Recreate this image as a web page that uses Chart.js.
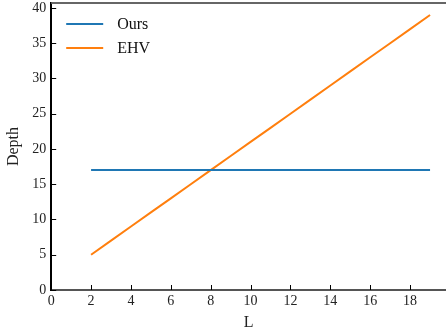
<!DOCTYPE html>
<html>
<head>
<meta charset="utf-8">
<script src="https://cdn.jsdelivr.net/npm/chart.js@4"></script>
<style>
  html, body { margin: 0; padding: 0; background: #fff; }
  #wrap { width: 446px; height: 334px; }
</style>
</head>
<body>
<div id="wrap"><canvas id="depthChart"></canvas></div>
<script>
// Values
let lValues = [2, 3, 4, 5, 6, 7, 8, 9, 10, 11, 12, 13, 14, 15, 16, 17, 18, 19];
let oursDepth = [17, 17, 17, 17, 17, 17, 17, 17, 17, 17, 17, 17, 17, 17, 17, 17, 17, 17];
let ehvDepth = [5, 7, 9, 11, 13, 15, 17, 19, 21, 23, 25, 27, 29, 31, 33, 35, 37, 39];
let xTicks = [0, 2, 4, 6, 8, 10, 12, 14, 16, 18];
let yTicks = [0, 5, 10, 15, 20, 25, 30, 35, 40];

let serif = "'Liberation Serif', 'DejaVu Serif', serif";

// Pairs the x values with a series so Chart.js can place the points
function toPoints(ys) {
    let pts = [];
    for (let i = 0; i < lValues.length; i++) {
        pts.push({ x: lValues[i], y: ys[i] });
    }
    return pts;
}

// Inward ticks, top spine and the legend box drawn on top of the chart area
let extras = {
    id: 'extras',
    afterDraw(chart) {
        let ctx = chart.ctx;
        let area = chart.chartArea;
        let xs = chart.scales.x;
        let ys = chart.scales.y;
        ctx.save();
        ctx.strokeStyle = '#000';
        ctx.lineWidth = 1;
        ctx.beginPath();
        for (let v of xTicks) {
            let px = Math.round(xs.getPixelForValue(v)) + 0.5;
            ctx.moveTo(px, area.bottom);
            ctx.lineTo(px, area.bottom - 5);
        }
        for (let v of yTicks) {
            let py = Math.round(ys.getPixelForValue(v)) + 0.5;
            ctx.moveTo(area.left, py);
            ctx.lineTo(area.left + 5, py);
        }
        ctx.stroke();

        // top spine
        ctx.strokeStyle = '#666';
        ctx.lineWidth = 2;
        ctx.beginPath();
        ctx.moveTo(area.left, area.top);
        ctx.lineTo(area.right, area.top);
        ctx.stroke();

        // legend
        ctx.font = '16px ' + serif;
        ctx.textBaseline = 'middle';
        ctx.textAlign = 'left';
        let rows = chart.data.datasets;
        for (let i = 0; i < rows.length; i++) {
            let y = area.top + 21 + i * 24;
            ctx.strokeStyle = rows[i].borderColor;
            ctx.lineWidth = 2;
            ctx.beginPath();
            ctx.moveTo(area.left + 15, y);
            ctx.lineTo(area.left + 52, y);
            ctx.stroke();
            ctx.fillStyle = '#111';
            ctx.fillText(rows[i].label, area.left + 66, y + 1);
        }
        ctx.restore();
    }
};

let chart = new Chart(document.getElementById('depthChart'), {
    type: 'line',
    data: {
        datasets: [
            {
                label: 'Ours',
                data: toPoints(oursDepth),
                borderColor: '#1f77b4',
                borderWidth: 2,
                pointRadius: 0,
                tension: 0
            },
            {
                label: 'EHV',
                data: toPoints(ehvDepth),
                borderColor: '#ff7f0e',
                borderWidth: 2,
                pointRadius: 0,
                tension: 0
            }
        ]
    },
    plugins: [extras],
    options: {
        responsive: true,
        maintainAspectRatio: false,
        animation: false,
        layout: { padding: { top: 3, right: 0, left: 4, bottom: 0 } },
        plugins: {
            legend: { display: false },
            tooltip: { enabled: false }
        },
        scales: {
            x: {
                type: 'linear',
                min: 0,
                max: 19.8,
                afterBuildTicks: (axis) => { axis.ticks = xTicks.map(v => ({ value: v })); },
                grid: { display: false, drawTicks: false },
                border: { color: '#555', width: 2 },
                ticks: {
                    color: '#222',
                    padding: 3,
                    maxRotation: 0,
                    font: { family: serif, size: 14 }
                },
                title: {
                    display: true,
                    text: 'L',
                    color: '#222',
                    padding: { top: 0, bottom: 2 },
                    font: { family: serif, size: 16 }
                }
            },
            y: {
                type: 'linear',
                min: 0,
                max: 40.7,
                afterBuildTicks: (axis) => { axis.ticks = yTicks.map(v => ({ value: v })); },
                afterFit: (axis) => { axis.paddingTop = 0; },
                grid: { display: false, drawTicks: false },
                border: { color: '#000', width: 2 },
                ticks: {
                    color: '#222',
                    padding: 5,
                    font: { family: serif, size: 14 }
                },
                title: {
                    display: true,
                    text: 'Depth',
                    color: '#222',
                    padding: { top: 0, bottom: 4 },
                    font: { family: serif, size: 16 }
                }
            }
        }
    }
});
</script>
</body>
</html>
